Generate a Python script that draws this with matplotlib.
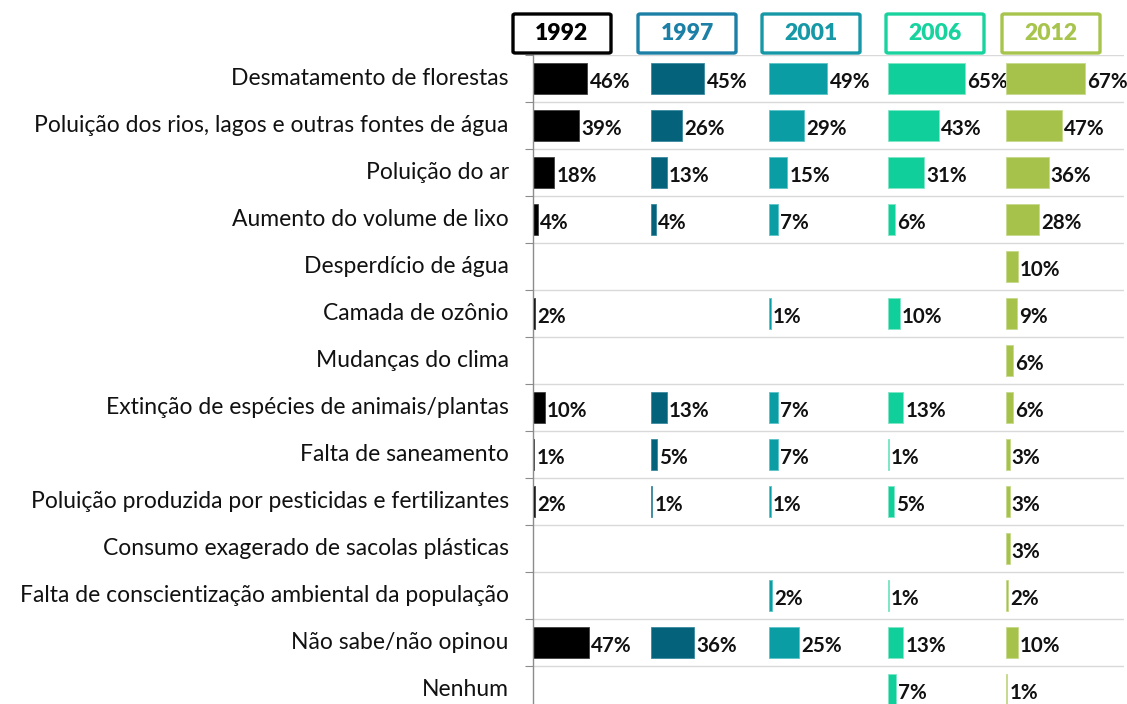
import matplotlib
matplotlib.use('Agg')
import matplotlib.pyplot as plt
from matplotlib.patches import FancyBboxPatch
import numpy as np

# Data (None = no answer recorded that year)
categories = [
    'Desmatamento de florestas',
    'Poluição dos rios, lagos e outras fontes de água',
    'Poluição do ar',
    'Aumento do volume de lixo',
    'Desperdício de água',
    'Camada de ozônio',
    'Mudanças do clima',
    'Extinção de espécies de animais/plantas',
    'Falta de saneamento',
    'Poluição produzida por pesticidas e fertilizantes',
    'Consumo exagerado de sacolas plásticas',
    'Falta de conscientização ambiental da população',
    'Não sabe/não opinou',
    'Nenhum',
]
years = ['1992', '1997', '2001', '2006', '2012']
v1992 = [46, 39, 18, 4, None, 2, None, 10, 1, 2, None, None, 47, None]
v1997 = [45, 26, 13, 4, None, None, None, 13, 5, 1, None, None, 36, None]
v2001 = [49, 29, 15, 7, None, 1, None, 7, 7, 1, None, 2, 25, None]
v2006 = [65, 43, 31, 6, None, 10, None, 13, 1, 5, None, 1, 13, 7]
v2012 = [67, 47, 36, 28, 10, 9, 6, 6, 3, 3, 3, 2, 10, 1]
series = [v1992, v1997, v2001, v2006, v2012]

bar_colors = ['#000000', '#04627b', '#0a9da4', '#10cf9b', '#a6c24a']
edge_colors = ['#404040', '#3a8aa0', '#5cc4c8', '#7fe6c6', '#c6da8c']
head_colors = ['#000000', '#1b7fa6', '#1698a6', '#19d39f', '#a7c44d']

W, H = 1127, 704
fig = plt.figure(figsize=(W / 100, H / 100), dpi=100)

left = 533 / W
pw = 118.25 / W
top = 1 - 55 / H
n = len(categories)
bottom = 1 - (55 + 47 * n) / H
ah = top - bottom

font = 'Lato'
y = np.arange(n)
for i, vals in enumerate(series):
    ax = fig.add_axes([left + i * pw, bottom, pw, ah])
    ax.set_xlim(0, 100)
    ax.set_ylim(n - 0.5, -0.5)
    for b in np.arange(-0.5, n, 1):
        ax.axhline(b, color='#d9d9d9', lw=1, zorder=0)
    for j, v in enumerate(vals):
        if v is None:
            continue
        ax.barh(j, v, height=0.68, color=bar_colors[i],
                edgecolor=edge_colors[i], lw=0.6, zorder=2)
        ax.text(v + 1.8, j + 0.07, f'{v}%', va='center', ha='left',
                fontsize=14.8, fontweight='bold', family=font, color='#111111')
    for s in ['top', 'right', 'bottom']:
        ax.spines[s].set_visible(False)
    ax.set_xticks([])
    if i == 0:
        ax.spines['left'].set_color('#8c8c8c')
        ax.spines['left'].set_linewidth(1)
        ax.set_yticks(np.arange(-0.5, n, 1))
        ax.set_yticklabels([])
        ax.tick_params(axis='y', direction='out', length=6, color='#8c8c8c')
        for j, c in enumerate(categories):
            ax.text(-20.5, j, c, ha='right', va='center', fontsize=16.5,
                    family=font, color='#111111',
                    transform=ax.transData)
    else:
        ax.spines['left'].set_visible(False)
        ax.set_yticks([])
    ax.set_facecolor('none')

# year header boxes
box_left = [513, 638, 762, 886, 1002]
for i, yr in enumerate(years):
    x0 = box_left[i] / W
    bw = 98 / W
    y0 = 1 - 53 / H
    bh = 39 / H
    fig.patches.append(FancyBboxPatch((x0, y0), bw, bh, boxstyle='round,pad=0,rounding_size=0.002',
                                      transform=fig.transFigure, fill=False,
                                      edgecolor=head_colors[i], lw=2.4))
    fig.text(x0 + bw / 2, y0 + bh / 2, yr, ha='center', va='center',
             fontsize=16.5, fontweight='heavy', family=font, color=head_colors[i])

fig.savefig('out.png', dpi=100)
